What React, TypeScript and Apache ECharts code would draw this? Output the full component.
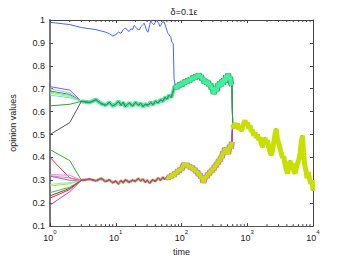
import React, { useEffect, useRef } from "react";
import * as echarts from "echarts";

const titleText = "δ=0.1ε";
const xName = "time";
const yName = "opinion values";
const yTicks = [0.1, 0.2, 0.3, 0.4, 0.5, 0.6, 0.7, 0.8, 0.9, 1];
const xMinorTicks = [
  2, 3, 4, 5, 6, 7, 8, 9,
  20, 30, 40, 50, 60, 70, 80, 90,
  200, 300, 400, 500, 600, 700, 800, 900,
  2000, 3000, 4000, 5000, 6000, 7000, 8000, 9000,
];

// top agent (starts near 1)
const blueTraj: number[][] = [
  [1, 0.99], [2, 0.98], [3, 0.967], [4, 0.962], [5, 0.958], [6, 0.952], [7, 0.947], [8, 0.94],
  [9, 0.93], [10, 0.936], [11, 0.947], [12, 0.942], [13, 0.958], [14, 0.965], [15, 0.955],
  [16, 0.95], [17, 0.962], [18, 0.958], [19, 0.976], [20, 0.97], [21, 0.962], [22, 0.958],
  [23, 0.957], [24, 0.97], [25, 0.975], [26, 0.98], [27, 0.986], [28, 0.975], [29, 0.96],
  [30, 0.95], [31, 0.947], [32, 0.965], [33, 0.98], [34, 1.0], [35, 0.99], [36, 0.985],
  [38, 0.979], [40, 0.99], [42, 1.0], [43, 1.0], [45, 0.985], [47, 0.972], [48, 0.975],
  [50, 0.985], [52, 0.99], [54, 0.993], [56, 0.98], [58, 0.968], [60, 0.955], [61, 0.947],
  [63, 0.94], [65, 0.935], [67, 0.928], [69, 0.925], [71, 0.905], [73, 0.9], [75, 0.895],
  [77, 0.745],
];

// upper cluster consensus path
const upperEarly: number[][] = [
  [3, 0.645], [4, 0.64], [5, 0.652], [6, 0.635], [7, 0.628], [8, 0.64], [9, 0.625], [10, 0.632],
  [11, 0.645], [12, 0.628], [13, 0.64], [14, 0.622], [16, 0.638], [18, 0.625], [20, 0.64],
  [22, 0.628], [24, 0.636], [26, 0.622], [28, 0.632], [31, 0.628], [34, 0.64], [37, 0.63],
  [40, 0.645], [44, 0.638], [48, 0.652], [52, 0.645], [56, 0.662], [60, 0.655], [65, 0.672],
  [70, 0.662], [75, 0.69],
];
const upperLate: number[][] = [
  [80, 0.715], [84, 0.7], [88, 0.718], [92, 0.708], [96, 0.725], [100, 0.712], [105, 0.73],
  [110, 0.72], [115, 0.738], [120, 0.725], [126, 0.742], [132, 0.73], [138, 0.748], [145, 0.738],
  [152, 0.755], [159, 0.742], [166, 0.76], [174, 0.748], [182, 0.765], [190, 0.75], [198, 0.758],
  [206, 0.738], [215, 0.745], [224, 0.725], [233, 0.738], [243, 0.72], [253, 0.732], [264, 0.712],
  [275, 0.722], [286, 0.698], [297, 0.705], [308, 0.678], [320, 0.69], [332, 0.705], [344, 0.69],
  [357, 0.722], [370, 0.708], [384, 0.73], [398, 0.712], [413, 0.738], [428, 0.718], [444, 0.745],
  [460, 0.728], [477, 0.758], [494, 0.738], [512, 0.765], [530, 0.74], [548, 0.752], [566, 0.722],
  [585, 0.715],
];

// lower cluster consensus path
const lowerEarly: number[][] = [
  [3, 0.3], [4, 0.305], [5, 0.298], [6, 0.308], [7, 0.295], [8, 0.302], [9, 0.29], [10, 0.296],
  [11, 0.285], [12, 0.298], [13, 0.29], [14, 0.302], [16, 0.292], [18, 0.3], [20, 0.296],
  [22, 0.308], [24, 0.298], [26, 0.305], [28, 0.292], [30, 0.3], [33, 0.288], [36, 0.302],
  [40, 0.296], [44, 0.31], [48, 0.3], [52, 0.312], [56, 0.305],
];
const lowerLate: number[][] = [
  [60, 0.315], [63, 0.308], [66, 0.32], [69, 0.312], [72, 0.328], [76, 0.318], [80, 0.335],
  [84, 0.328], [88, 0.345], [92, 0.338], [96, 0.352], [100, 0.345], [105, 0.362], [110, 0.372],
  [115, 0.36], [120, 0.372], [126, 0.358], [132, 0.365], [138, 0.352], [145, 0.36], [152, 0.345],
  [159, 0.35], [166, 0.335], [174, 0.34], [182, 0.322], [190, 0.328], [198, 0.31], [206, 0.315],
  [215, 0.29], [224, 0.305], [233, 0.318], [243, 0.312], [253, 0.33], [264, 0.325], [275, 0.342],
  [286, 0.336], [297, 0.352], [308, 0.345], [320, 0.365], [332, 0.358], [344, 0.378], [357, 0.37],
  [370, 0.392], [384, 0.382], [398, 0.405], [413, 0.398], [428, 0.425], [444, 0.418], [460, 0.442],
  [477, 0.425], [494, 0.435], [512, 0.415], [530, 0.44], [548, 0.452], [566, 0.44], [585, 0.468],
];

// merged consensus after t ~ 600
const mergedTraj: number[][] = [
  [600, 0.545], [625, 0.528], [650, 0.55], [680, 0.532], [710, 0.548], [740, 0.522], [775, 0.538],
  [810, 0.515], [845, 0.532], [885, 0.548], [925, 0.562], [965, 0.54], [1010, 0.552], [1055, 0.525],
  [1100, 0.54], [1150, 0.512], [1200, 0.52], [1255, 0.495], [1310, 0.508], [1370, 0.485],
  [1430, 0.5], [1495, 0.475], [1560, 0.488], [1630, 0.462], [1700, 0.445], [1780, 0.468],
  [1860, 0.485], [1940, 0.458], [2030, 0.475], [2120, 0.445], [2215, 0.425], [2315, 0.41],
  [2420, 0.43], [2530, 0.465], [2640, 0.5], [2760, 0.525], [2880, 0.478], [3010, 0.462],
  [3150, 0.44], [3290, 0.418], [3440, 0.398], [3590, 0.405], [3750, 0.37], [3920, 0.345],
  [4100, 0.33], [4280, 0.355], [4480, 0.385], [4680, 0.365], [4890, 0.372], [5110, 0.34],
  [5340, 0.33], [5580, 0.355], [5830, 0.375], [6090, 0.39], [6360, 0.42], [6650, 0.47],
  [6900, 0.495], [7150, 0.43], [7450, 0.37], [7780, 0.345], [8130, 0.31], [8500, 0.335],
  [8880, 0.305], [9280, 0.285], [9700, 0.3], [10000, 0.255],
];

// initial opinions (t=1, t=2) of upper-group agents and their colours
const upperStart1 = [0.709, 0.7, 0.69, 0.685, 0.68, 0.672, 0.5, 0.625];
const upperStart2 = [0.694, 0.682, 0.675, 0.67, 0.665, 0.66, 0.552, 0.632];
const upperColors = ["#b040ff", "#40ffd0", "#4060ff", "#d4d400", "#80ff80", "#60e0ff", "#555555", "#30a040"];

// initial opinions (t=1, t=2) of lower-group agents and their colours
const lowerStart1 = [0.434, 0.4, 0.325, 0.32, 0.318, 0.282, 0.275, 0.246, 0.232, 0.222, 0.192];
const lowerStart2 = [0.386, 0.31, 0.322, 0.31, 0.3, 0.29, 0.285, 0.27, 0.265, 0.26, 0.25];
const lowerColors = ["#30b030", "#ff3030", "#ff70ff", "#ff8080", "#9060ff", "#60ffd0", "#c0e000", "#40c040", "#555555", "#ff2020", "#b040ff"];

const FONT = "Liberation Sans, Arial, Helvetica, sans-serif";

export default function App() {
  const ref = useRef<HTMLDivElement>(null);
  useEffect(() => {
    document.body.style.margin = "0";
    const chart = echarts.init(ref.current!, null, { renderer: "svg" });
    const series: any[] = [];
    const line = (data: number[][], color: string, width: number, z: number) => ({
      type: "line",
      data,
      showSymbol: false,
      symbol: "none",
      z,
      lineStyle: { color, width, join: "bevel" },
      itemStyle: { color },
      silent: true,
    });
    // bands (under agents)
    series.push(line([...upperEarly, ...upperLate], "#3cf0a8", 4, 1));
    series.push(line(upperLate, "#30b050", 6, 1));
    series.push(line(lowerEarly, "#d0c040", 3, 1));
    series.push(line(lowerLate, "#d070d0", 6, 1));
    // agents
    series.push(line([...blueTraj, ...upperLate, ...mergedTraj], "#4466ff", 1, 2));
    lowerColors.forEach((c, i) => {
      series.push(line([[1, lowerStart1[i]], [2, lowerStart2[i]], ...lowerEarly, ...lowerLate, ...mergedTraj], c, 1, 2));
    });
    upperColors.forEach((c, i) => {
      series.push(line([[1, upperStart1[i]], [2, upperStart2[i]], ...upperEarly, ...upperLate, ...mergedTraj], c, 1, 2));
    });
    // bands on top
    series.push(line(upperLate, "#40f0a0", 4, 3));
    series.push(line(lowerLate, "#c8e000", 4, 3));
    series.push(line(mergedTraj, "#c8e000", 5, 3));
    // minor log ticks
    series.push({
      type: "custom",
      z: 5,
      silent: true,
      data: xMinorTicks.map((t) => [t, 0.1]),
      encode: { x: 0, y: 1 },
      renderItem: (_p: any, api: any) => {
        const t = api.value(0);
        const b = api.coord([t, 0.1]);
        const tp = api.coord([t, 1]);
        return {
          type: "group",
          children: [
            { type: "line", shape: { x1: b[0], y1: b[1], x2: b[0], y2: b[1] - 2 }, style: { stroke: "#444", lineWidth: 1 } },
            { type: "line", shape: { x1: tp[0], y1: tp[1], x2: tp[0], y2: tp[1] + 2 }, style: { stroke: "#444", lineWidth: 1 } },
          ],
        };
      },
    });

    chart.setOption({
      animation: false,
      backgroundColor: "#ffffff",
      title: {
        text: titleText,
        left: 179,
        top: 2,
        textAlign: "center",
        textStyle: { fontSize: 9, fontWeight: "normal", color: "#222", fontFamily: FONT },
      },
      grid: { left: 45, right: 33, top: 20, bottom: 30 },
      xAxis: [
        {
          type: "log",
          logBase: 10,
          min: 1,
          max: 10000,
          name: xName,
          nameLocation: "middle",
          nameGap: 19,
          nameTextStyle: { fontSize: 9, color: "#222", fontFamily: FONT },
          axisLine: { lineStyle: { color: "#555", width: 1 } },
          axisTick: { inside: true, length: 3, lineStyle: { color: "#444" } },
          splitLine: { show: false },
          axisLabel: {
            margin: 3,
            color: "#222",
            fontFamily: FONT,
            formatter: (v: number) => "{b|10}{s|" + Math.round(Math.log10(v)) + "}",
            rich: {
              b: { fontSize: 9, lineHeight: 13, verticalAlign: "bottom", color: "#222", fontFamily: FONT },
              s: { fontSize: 6, lineHeight: 13, verticalAlign: "top", color: "#222", fontFamily: FONT },
            },
          },
        },
        {
          type: "log",
          logBase: 10,
          min: 1,
          max: 10000,
          position: "top",
          axisLine: { lineStyle: { color: "#444", width: 1 } },
          axisTick: { inside: true, length: 3, lineStyle: { color: "#444" } },
          axisLabel: { show: false },
          splitLine: { show: false },
        },
      ],
      yAxis: [
        {
          type: "value",
          min: 0.1,
          max: 1,
          interval: 0.1,
          name: yName,
          nameLocation: "middle",
          nameGap: 33,
          nameTextStyle: { fontSize: 9, color: "#222", fontFamily: FONT },
          axisLine: { show: true, lineStyle: { color: "#777", width: 2 } },
          axisTick: { show: true, inside: true, length: 3, lineStyle: { color: "#444" } },
          splitLine: { show: false },
          axisLabel: {
            margin: 5,
            fontSize: 9,
            color: "#222",
            fontFamily: FONT,
            customValues: yTicks,
            formatter: (v: number) => String(+v.toFixed(1)),
          },
        },
        {
          type: "value",
          min: 0.1,
          max: 1,
          interval: 0.1,
          position: "right",
          axisLine: { show: true, lineStyle: { color: "#444", width: 1 } },
          axisTick: { show: true, inside: true, length: 3, lineStyle: { color: "#444" } },
          axisLabel: { show: false },
          splitLine: { show: false },
        },
      ],
      series,
    });
    return () => chart.dispose();
  }, []);
  return <div ref={ref} style={{ width: 346, height: 261 }} />;
}
